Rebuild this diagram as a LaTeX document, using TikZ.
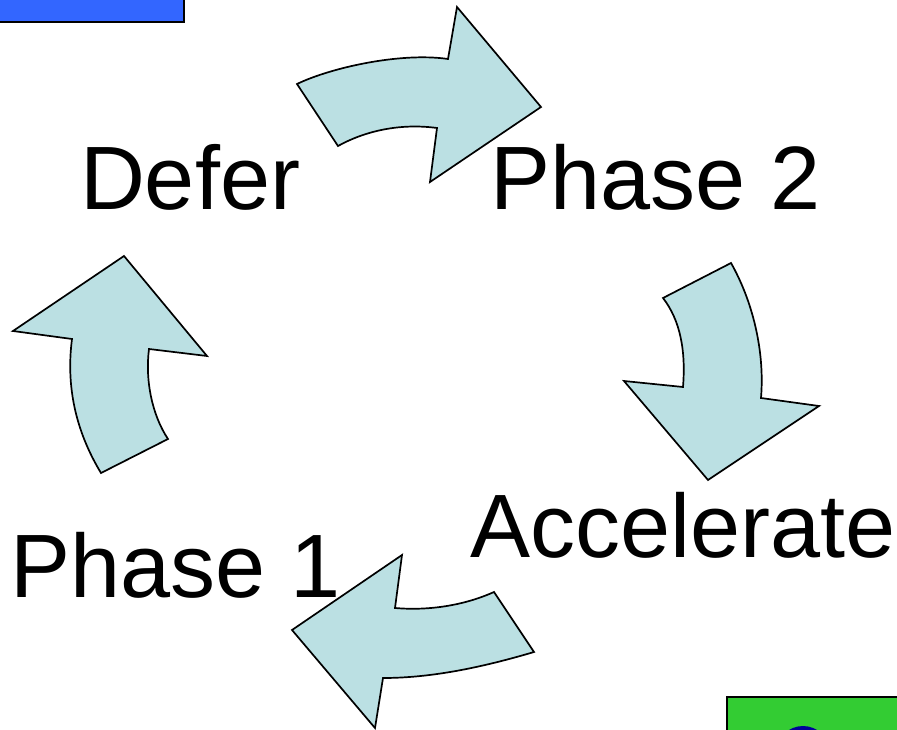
\documentclass[tikz,border=0pt]{standalone}
\usepackage{fontspec}
\setmainfont{Liberation Sans}
\definecolor{arrowfill}{HTML}{BBE0E3}
\definecolor{topblue}{HTML}{3366FF}
\definecolor{boxgreen}{HTML}{33CC33}
\definecolor{darkblue}{HTML}{000099}
\begin{document}
\begin{tikzpicture}[x=1pt,y=-1pt,
  cyclearrow/.style={fill=arrowfill,draw=black,line width=1.7pt,line join=miter},
  label/.style={font=\fontsize{90}{90}\selectfont,anchor=base west,inner sep=0pt,outer sep=0pt}]
\useasboundingbox (0,0) rectangle (897,730);
\begin{scope}
\clip (0,0) rectangle (897,730);
\draw[fill=topblue,line width=2pt] (-5,-5) rectangle (184,22);
\draw[fill=boxgreen,line width=2pt] (727,697) rectangle (905,740);
\fill[darkblue] (803,753) circle (27);
\end{scope}
% top arrow
\draw[cyclearrow] (297,84) .. controls (330,68) and (400,52) .. (448,59)
  -- (457,7) -- (541,107) -- (430,182) -- (437,128)
  .. controls (400,123) and (365,131) .. (338,146) -- cycle;
% right arrow
\draw[cyclearrow] (663,298) -- (731,263) .. controls (752,300) and (765,350) .. (761,398)
  -- (819,406) -- (708,480) -- (624,381) -- (683,387)
  .. controls (686,350) and (680,320) .. (663,298) -- cycle;
% bottom arrow
\draw[cyclearrow] (494,592) -- (534,652) .. controls (480,668) and (430,678) .. (383,678)
  -- (375,728) -- (292,630) -- (402,555) -- (395,608)
  .. controls (430,611) and (465,605) .. (494,592) -- cycle;
% left arrow
\draw[cyclearrow] (101,473) -- (168,439) .. controls (152,415) and (145,380) .. (149,349)
  -- (207,356) -- (124,256) -- (13,331) -- (72,339)
  .. controls (66,385) and (75,430) .. (101,473) -- cycle;
\node[label] (defer) at (80,210) {Defer};
\node[label] (phase2) at (490,210) {Phase 2};
\node[label] (accel) at (470,557) {Accelerate};
\node[label] (phase1) at (10,597) {Phase 1};
\end{tikzpicture}
\end{document}
